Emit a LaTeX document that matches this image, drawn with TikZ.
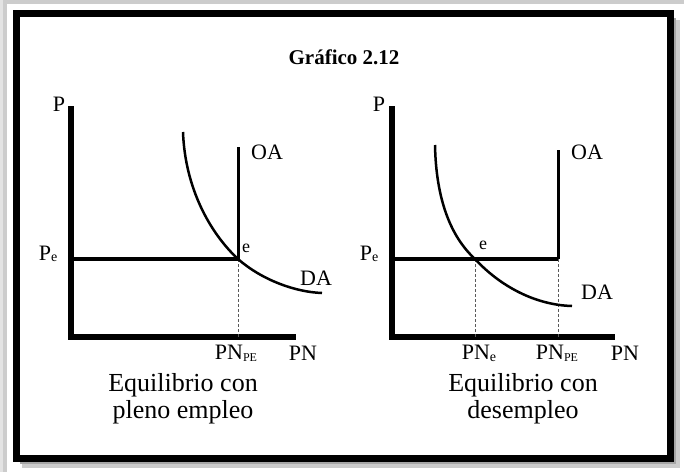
\documentclass[tikz,border=0pt]{standalone}
\usepackage{fontspec}
\setmainfont{Liberation Serif}
\begin{document}
\begin{tikzpicture}[x=1pt,y=-1pt,
  axisline/.style={line width=5.5pt},
  eqline/.style={line width=4pt},
  oaline/.style={line width=3pt},
  daline/.style={line width=2.5pt},
  guide/.style={gray!70!black,line width=0.9pt,dash pattern=on 3pt off 2pt},
  lbl/.style={inner sep=0pt,font=\fontsize{22}{24}\selectfont},
  sml/.style={inner sep=0pt,font=\fontsize{18}{20}\selectfont},
  captext/.style={inner sep=0pt,align=center,font=\fontsize{26}{27}\selectfont}]
\useasboundingbox (0,0) rectangle (684,472);
% outer page edges
\fill[gray!40] (0,0) rectangle (684,4);
\fill[gray!40] (0,0) rectangle (7,472);
\fill[gray!22] (0,0) rectangle (3,472);
% frame with shadow
\draw[gray!40,line width=9pt] (22,463) -- (675,463) -- (675,20);
\draw[gray!70,line width=5pt] (20,461) -- (673,461) -- (673,18);
\draw[line width=7pt] (16.5,13) rectangle (670,458);
% title
\node[inner sep=0pt,font=\bfseries\fontsize{21}{24}\selectfont] (title) at (344,57) {Gráfico 2.12};

% ---------- left graph ----------
\coordinate (Ltop) at (71,106);
\coordinate (Lo) at (71,337);
\coordinate (Lend) at (296,337);
\coordinate (Lpe) at (71,259);
\coordinate (Le) at (238,259);
\coordinate (Loa) at (238,147);
\coordinate (Lx) at (238,337);
\draw[axisline] (Ltop) -- (Lo) -- (Lend);
\draw[eqline] (Lpe) -- (Le);
\draw[oaline] (Loa) -- (Le);
\draw[guide] (Le) -- (Lx);
\draw[daline] (183,132) .. controls (185,188) and (210,233) .. (Le)
  .. controls (262,280) and (295,292) .. (322,293);
\node[lbl] (LP) at (59,104) {P};
\node[lbl] (LPe) at (48,254) {P\raisebox{-0.15ex}{\fontsize{14}{14}\selectfont e}};
\node[sml] (Lelab) at (246,248) {e};
\node[lbl] (LOA) at (267,152) {OA};
\node[lbl] (LDA) at (316,278) {DA};
\node[lbl] (LPNPE) at (236,353) {PN\raisebox{-0.2ex}{\fontsize{12}{12}\selectfont PE}};
\node[lbl] (LPN) at (303,353) {PN};
\node[captext] (Lcap) at (183,399) {Equilibrio con\\pleno empleo};

% ---------- right graph ----------
\coordinate (Rtop) at (392,106);
\coordinate (Ro) at (392,337);
\coordinate (Rend) at (615,337);
\coordinate (Rpe) at (392,259);
\coordinate (Rk) at (558,259);
\coordinate (Roa) at (558,150);
\coordinate (Re) at (475,259);
\coordinate (Rxe) at (475,337);
\coordinate (Rxpe) at (558,337);
\draw[axisline] (Rtop) -- (Ro) -- (Rend);
\draw[eqline] (Rpe) -- (Rk);
\draw[oaline] (Rk) -- (Roa);
\draw[guide] (Re) -- (Rxe);
\draw[guide] (Rk) -- (Rxpe);
\draw[daline] (435,145) .. controls (436,198) and (450,236) .. (Re)
  .. controls (500,286) and (535,305) .. (572,306);
\node[lbl] (RP) at (379,104) {P};
\node[lbl] (RPe) at (369,254) {P\raisebox{-0.15ex}{\fontsize{14}{14}\selectfont e}};
\node[sml] (Relab) at (483,245) {e};
\node[lbl] (ROA) at (587,152) {OA};
\node[lbl] (RDA) at (597,292) {DA};
\node[lbl] (RPNe) at (479,353) {PN\raisebox{-0.2ex}{\fontsize{14}{14}\selectfont e}};
\node[lbl] (RPNPE) at (557,353) {PN\raisebox{-0.2ex}{\fontsize{12}{12}\selectfont PE}};
\node[lbl] (RPN) at (625,353) {PN};
\node[captext] (Rcap) at (523,399) {Equilibrio con\\desempleo};
\end{tikzpicture}
\end{document}
